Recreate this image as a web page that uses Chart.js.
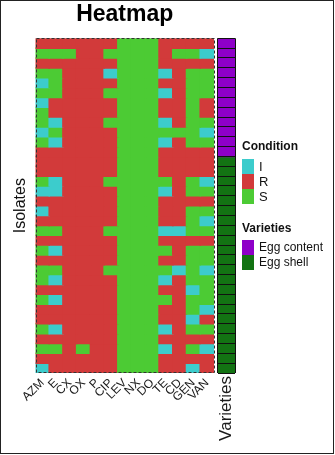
<!DOCTYPE html>
<html><head><meta charset="utf-8">
<script src="https://cdn.jsdelivr.net/npm/chart.js@4.4.1/dist/chart.umd.min.js"></script>
<style>
html,body{margin:0;padding:0;background:#fff;}
#wrap{position:relative;width:335px;height:455px;overflow:hidden;font-family:"Liberation Sans",Arial,sans-serif;}
#frame{position:absolute;left:0;top:0;width:334px;height:454px;border:1px solid #222;box-sizing:border-box;}
#c1{position:absolute;left:0;top:0;}
#c2{position:absolute;left:200px;top:0;}
.lt{position:absolute;left:242px;font-weight:bold;font-size:12px;color:#111;line-height:14px;}
.sw{position:absolute;left:242px;width:12px;height:15px;}
.ll{position:absolute;left:259px;font-size:12px;color:#111;line-height:15px;}
</style></head>
<body><div id="wrap">
<canvas id="c1" width="335" height="455"></canvas>
<canvas id="c2" width="60" height="455"></canvas>
<div id="legend"></div>
<div id="frame"></div>
</div>
<script>
const antibiotics = ['AZM','E','CX','OX','P','CIP','LEV','NX','DO','TE','CD','GEN','VAN'];
const conditionLevels = ['I','R','S'];
const conditionColors = ['#3ccccc','#d23a3a','#4ccb34'];
const varietyLevels = ['Egg content','Egg shell'];
const varietyColors = ['#8e00c8','#137313'];
const isolateRows = [
'RRRRRRSSSRRRR','SSSRRSSSSRSSI','RRRRRRSSSRRRR','SSRRRISSSIRSS','ISRRRRSSSRRSS',
'SSRRRSSSSIRSS','IRRRRRSSSRRSR','SRRRRRSSSRRSR','SIRRRSSSSIRSS','ISRRRRSSSSSSI',
'SIRRRRSSSIRSS','RRRRRRSSSRRRR','RRRRRRSSSRRRR','RRRRRRSSSRRRR','SIRRRSSSSSRSI',
'IIRRRRSSSIRSS','RRRRRRSSSRRRR','IRRRRRSSSRRSS','RRRRRRSSSRRSI','SSRRRSSSSIISS',
'RRRRRRSSSRRRR','SIRRRRSSSSRSS','RRRRRRSSSRRSS','SSRRRSSSSSISI','SIRRRRSSSIRSS',
'RRRRRRSSSRRIS','SIRRRRSSSSRSS','RRRRRRSSSRRSI','RRRRRRSSSRRIR','SIRRRRSSSIRSS',
'RRRRRRSSSRRRR','SSRSRRSSSIRSI','RRRRRRSSSRRRR','IRRRRRSSSRRIR'];
const varietyCounts = [12, 22];

const nRows = isolateRows.length;
const varieties = [];
varietyCounts.forEach((n,i)=>{for(let k=0;k<n;k++) varieties.push(varietyLevels[i]);});

const font = '"Liberation Sans", Arial, sans-serif';

const dashedBox = {
  id:'dashedBox',
  afterDatasetsDraw(chart){
    const a = chart.chartArea, ctx = chart.ctx;
    ctx.save();
    ctx.strokeStyle = '#333';
    ctx.lineWidth = 1;
    ctx.setLineDash([3,2]);
    ctx.strokeRect(Math.round(a.left)+0.5, Math.round(a.top)+0.5, Math.round(a.right-a.left)-1, Math.round(a.bottom-a.top)-1);
    ctx.restore();
  }
};

const heatSets = isolateRows.map((row, r) => ({
  label: 'Isolate ' + (r+1),
  data: antibiotics.map(() => 1),
  backgroundColor: row.split('').map(c => conditionColors[conditionLevels.indexOf(c)]),
  borderWidth: 0,
  inflateAmount: 0.8,
  barPercentage: 1,
  categoryPercentage: 1,
  stack: 's'
}));

new Chart(document.getElementById('c1'), {
  type: 'bar',
  data: { labels: antibiotics, datasets: heatSets },
  options: {
    responsive: false, animation: false, events: [],
    layout: { padding: { left: 0, top: 0, right: 121, bottom: 0 } },
    plugins: {
      legend: { display: false }, tooltip: { enabled: false },
      title: { display: true, text: 'Heatmap', fullSize: false, color: '#000',
        font: { family: font, size: 23, weight: 'bold', lineHeight: 1.2 },
        padding: { top: 1, bottom: 9.7 } }
    },
    scales: {
      x: { stacked: true, grid: { display: false, drawTicks: false }, border: { display: false },
        ticks: { color: '#1a1a1a', font: { family: font, size: 12 }, minRotation: 45, maxRotation: 45, padding: 3, autoSkip: false },
        afterFit(s){ s.height = 82; s.paddingLeft = 0; s.paddingRight = 0; } },
      y: { stacked: true, reverse: true, min: 0, max: nRows,
        grid: { display: false, drawTicks: false }, border: { display: false },
        ticks: { display: false },
        title: { display: true, text: 'Isolates', color: '#111', font: { family: font, size: 16 }, padding: { top: 11, bottom: 0 } },
        afterFit(s){ s.width = 35.5; } }
    }
  },
  plugins: [dashedBox]
});

const varSets = varieties.map((v, r) => ({
  label: 'Isolate ' + (r+1),
  data: [1],
  backgroundColor: varietyColors[varietyLevels.indexOf(v)],
  borderWidth: 0,
  inflateAmount: 0.8,
  barPercentage: 1,
  categoryPercentage: 1,
  stack: 's'
}));

new Chart(document.getElementById('c2'), {
  type: 'bar',
  data: { labels: ['Varieties'], datasets: varSets },
  options: {
    responsive: false, animation: false, events: [],
    layout: { padding: { left: 17.5, top: 38.3, right: 25, bottom: 0 } },
    plugins: { legend: { display: false }, tooltip: { enabled: false }, title: { display: false } },
    scales: {
      x: { stacked: true, grid: { display: true, color: '#111', lineWidth: 1, drawTicks: false, z: 1, offset: true },
        border: { display: false },
        ticks: { color: '#1a1a1a', font: { family: font, size: 17 }, minRotation: 90, maxRotation: 90, padding: 3 },
        afterFit(s){ s.height = 82; s.paddingLeft = 0; s.paddingRight = 0; } },
      y: { stacked: true, reverse: true, min: 0, max: nRows, display: true,
        grid: { display: true, color: '#111', lineWidth: 1, drawTicks: false, z: 1 },
        border: { display: false },
        ticks: { display: false, stepSize: 1 },
        afterFit(s){ s.width = 0; } }
    }
  }
});

// legend (text as HTML)
const leg = document.getElementById('legend');
function add(html){ leg.insertAdjacentHTML('beforeend', html); }
add('<div class="lt" style="top:139px">Condition</div>');
conditionLevels.forEach((c,i)=>{
  add(`<div class="sw" style="top:${159+i*15}px;background:${conditionColors[i]}"></div>`);
  add(`<div class="ll" style="top:${159+i*15}px;font-size:13px">${c}</div>`);
});
add('<div class="lt" style="top:221px">Varieties</div>');
varietyLevels.forEach((v,i)=>{
  add(`<div class="sw" style="top:${240+i*15}px;background:${varietyColors[i]}"></div>`);
  add(`<div class="ll" style="top:${240+i*15}px">${v}</div>`);
});
</script>
</body></html>
